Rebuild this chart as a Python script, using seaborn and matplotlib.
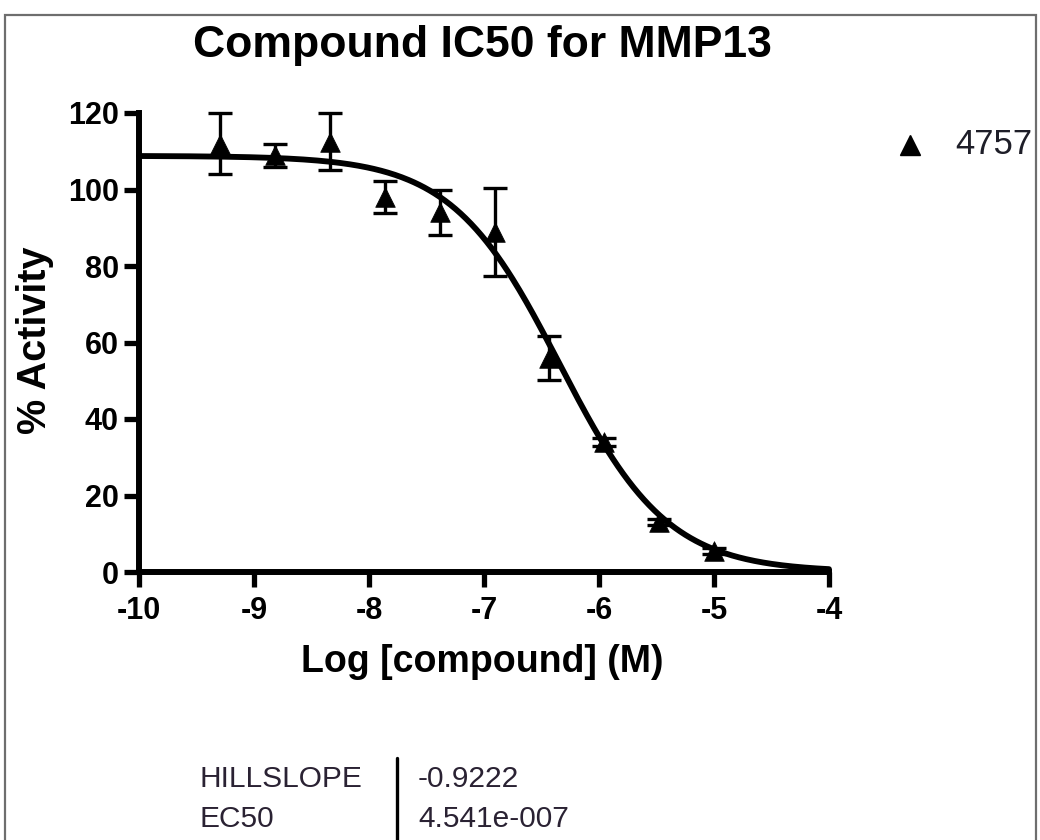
import numpy as np
import pandas as pd
import matplotlib
matplotlib.use("Agg")
import matplotlib.pyplot as plt
from matplotlib.patches import Rectangle
from matplotlib.lines import Line2D
import seaborn as sns

# ---- data ----
log_conc = [-9.294, -8.817, -8.340, -7.863, -7.386, -6.908, -6.431, -5.954, -5.477, -5.0]
activity = [112.0, 109.0, 112.5, 98.0, 94.0, 89.0, 56.0, 34.0, 13.0, 5.5]
act_err = [8.0, 3.0, 7.5, 4.2, 6.0, 11.5, 5.8, 1.0, 0.8, 0.8]
series_name = "4757"
hillslope = -0.9222
ec50 = 4.541e-7
fit_top = 108.8
fit_bottom = 0.0
param_names = ["HILLSLOPE", "EC50"]
param_values = ["-0.9222", "4.541e-007"]
x_ticks = [-10, -9, -8, -7, -6, -5, -4]
y_ticks = [0, 20, 40, 60, 80, 100, 120]

sns.set_theme(style="ticks")
plt.rcParams['font.family'] = ['Liberation Sans', 'DejaVu Sans']
plt.rcParams['text.color'] = 'black'
plt.rcParams['xtick.color'] = 'black'
plt.rcParams['ytick.color'] = 'black'
plt.rcParams['xtick.labelcolor'] = 'black'
plt.rcParams['ytick.labelcolor'] = 'black'

W, H = 1040, 840
fig = plt.figure(figsize=(W / 100, H / 100), dpi=100)
fig.patch.set_facecolor("white")

def fx(px):
    return px / W

def fy(py):
    return 1 - py / H

ax = fig.add_axes([fx(139), fy(572), fx(829) - fx(139), fy(113) - fy(572)])
ax.set_facecolor("white")

# fitted curve from the displayed parameters
xs = np.linspace(-10, -4, 400)
ys = fit_bottom + (fit_top - fit_bottom) / (1 + 10 ** ((np.log10(ec50) - xs) * hillslope))
curve = pd.DataFrame({"x": xs, "y": ys})
sns.lineplot(data=curve, x="x", y="y", ax=ax, color="black", linewidth=4.2, clip_on=False)

pts = pd.DataFrame({"x": log_conc, "y": activity, "e": act_err})
ax.errorbar(pts["x"], pts["y"], yerr=pts["e"], fmt="none", ecolor="black",
            elinewidth=2.4, capsize=8.3, capthick=2.4, clip_on=False)
sns.scatterplot(data=pts, x="x", y="y", ax=ax, marker="^", s=200, color="black",
                edgecolor="black", linewidth=0.5, clip_on=False, zorder=5)

ax.set_xlim(-10, -4)
ax.set_ylim(0, 120)
ax.set_xticks(x_ticks)
ax.set_yticks(y_ticks)
ax.set_xticklabels([str(t) for t in x_ticks], fontsize=22, fontweight="bold")
ax.set_yticklabels([str(t) for t in y_ticks], fontsize=22, fontweight="bold")
ax.set_xlabel("")
ax.set_ylabel("")
for s in ["top", "right"]:
    ax.spines[s].set_visible(False)
for s in ["left", "bottom"]:
    ax.spines[s].set_linewidth(4.3)
    ax.spines[s].set_color("black")
    ax.spines[s].set_capstyle("projecting")
ax.tick_params(axis="both", direction="out", length=11, width=3.8, color="black")
ax.tick_params(axis="x", pad=6)
ax.tick_params(axis="y", pad=3.5)

# texts
fig.text(fx(482), fy(57), "Compound IC50 for MMP13", ha="center", va="baseline",
         fontsize=32, fontweight="bold", color="black")
fig.text(fx(482), fy(662), "Log [compound] (M)", ha="center", va="center",
         fontsize=27, fontweight="bold", color="black")
fig.text(fx(35), fy(340), "% Activity", ha="center", va="center", rotation=90,
         fontsize=28.5, fontweight="bold", color="black")

# legend
fig.lines.append(Line2D([fx(910)], [fy(145)], transform=fig.transFigure, marker="^",
                        markersize=14, color="black", linestyle="none"))
fig.text(fx(955), fy(145), series_name, ha="left", va="center", fontsize=25, color="#1e1e28")

# parameter table
row_y = [779, 819]
for name, val, yy in zip(param_names, param_values, row_y):
    fig.text(fx(200), fy(yy), name, ha="left", va="center", fontsize=21.5, color="#2a2233")
    fig.text(fx(418), fy(yy), val, ha="left", va="center", fontsize=21.5, color="#2a2233")
fig.lines.append(Line2D([fx(397), fx(397)], [fy(758), fy(845)], transform=fig.transFigure,
                        color="black", linewidth=2.4))

# outer frame
fig.patches.append(Rectangle((fx(5), fy(900)), fx(1036) - fx(5), fy(15) - fy(900),
                             transform=fig.transFigure, fill=False, edgecolor="#6e6e6e",
                             linewidth=1.6))

fig.savefig("out.png", dpi=100)
